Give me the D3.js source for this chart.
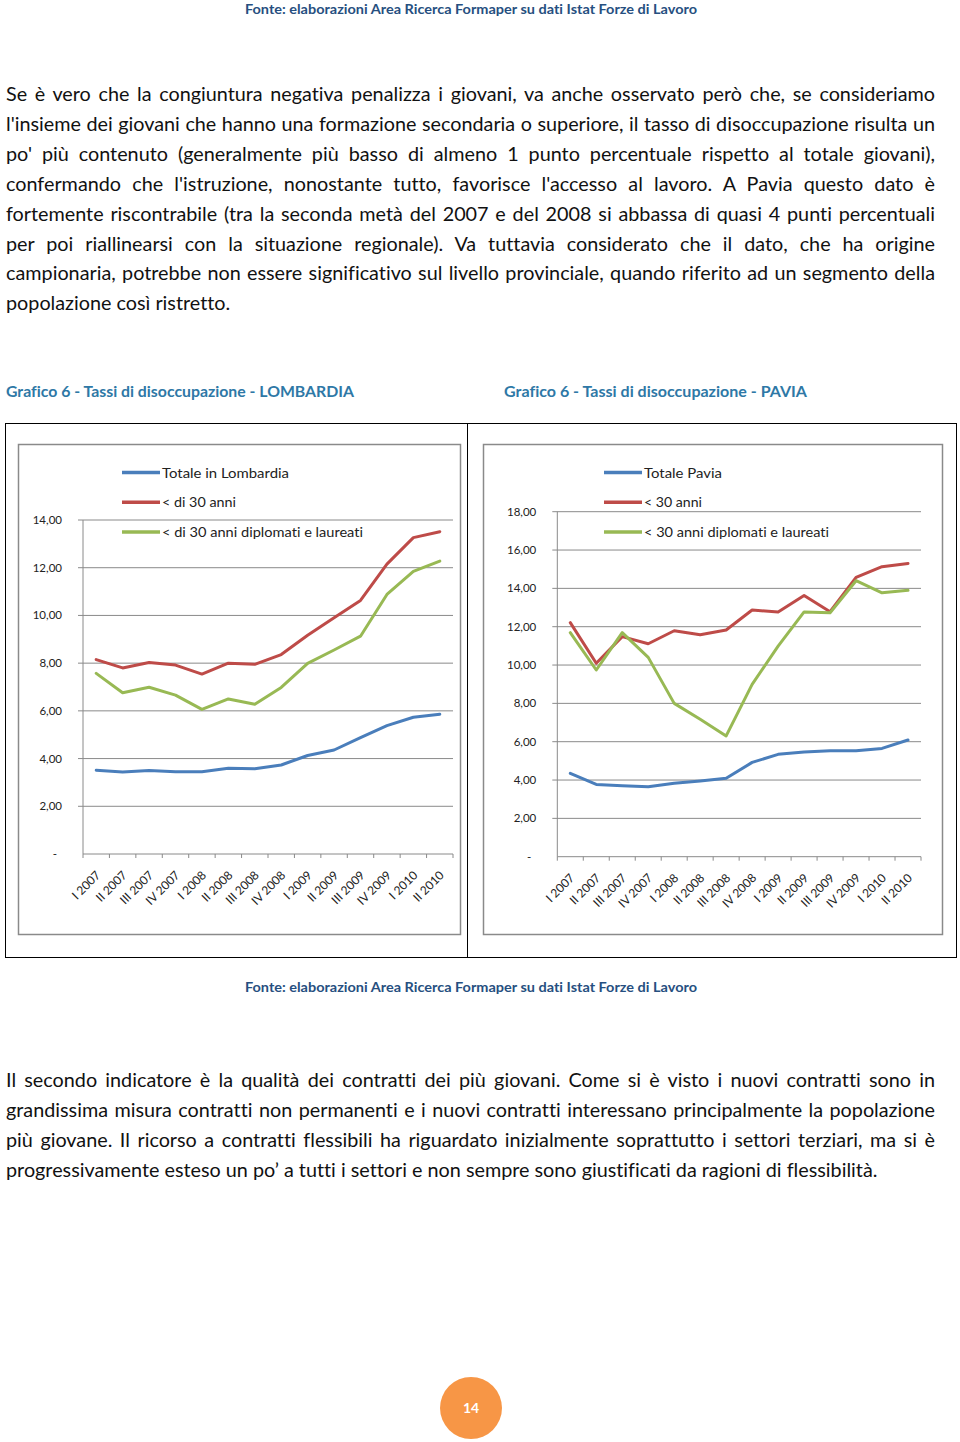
<!DOCTYPE html>
<html>
<head>
<meta charset="utf-8">
<script src="https://cdn.jsdelivr.net/npm/d3@7"></script>
<style>
  html, body { margin: 0; padding: 0; background: #fff; }
  svg { display: block; }
  text { font-variant-ligatures: none; }
</style>
</head>
<body>
<svg id="page" width="960" height="1442"></svg>
<script>
// ---------- DATA ----------
const quarters = ["I 2007","II 2007","III 2007","IV 2007","I 2008","II 2008","III 2008","IV 2008","I 2009","II 2009","III 2009","IV 2009","I 2010","II 2010"];

const lombTotale   = [3.51,3.44,3.50,3.45,3.45,3.59,3.57,3.73,4.13,4.36,4.88,5.38,5.73,5.86];
const lombUnder30  = [8.15,7.80,8.03,7.92,7.54,8.00,7.95,8.36,9.17,9.90,10.63,12.15,13.26,13.51];
const lombDiplomati= [7.57,6.76,6.99,6.66,6.06,6.50,6.28,6.98,7.99,8.55,9.13,10.88,11.85,12.28];

const paviaTotale   = [4.35,3.77,3.70,3.65,3.83,3.95,4.09,4.92,5.34,5.46,5.53,5.53,5.65,6.09];
const paviaUnder30  = [12.21,10.09,11.48,11.11,11.79,11.58,11.83,12.87,12.77,13.63,12.78,14.57,15.13,15.30];
const paviaDiplomati= [11.69,9.74,11.69,10.40,8.00,7.17,6.30,8.99,10.99,12.77,12.73,14.40,13.77,13.90];

const lombTicks  = [0,2,4,6,8,10,12,14];
const paviaTicks = [0,2,4,6,8,10,12,14,16,18];

const lombLegend  = ["Totale in Lombardia","< di 30 anni","< di 30 anni diplomati e laureati"];
const paviaLegend = ["Totale Pavia","< 30 anni","< 30 anni diplomati e laureati"];
const seriesColors = ["#4a7ebb","#be4b48","#98b954"];

const sourceText = "Fonte: elaborazioni Area Ricerca Formaper su dati Istat Forze di Lavoro";
const titleLomb  = "Grafico 6 - Tassi di disoccupazione - LOMBARDIA";
const titlePavia = "Grafico 6 - Tassi di disoccupazione - PAVIA";

const para1 = [
  "Se è vero che la congiuntura negativa penalizza i giovani, va anche osservato però che, se consideriamo",
  "l'insieme dei giovani che hanno una formazione secondaria o superiore, il tasso di disoccupazione risulta un",
  "po' più contenuto (generalmente più basso di almeno 1 punto percentuale rispetto al totale giovani),",
  "confermando che l'istruzione, nonostante tutto, favorisce l'accesso al lavoro. A Pavia questo dato è",
  "fortemente riscontrabile (tra la seconda metà del 2007 e del 2008 si abbassa di quasi 4 punti percentuali",
  "per poi riallinearsi con la situazione regionale). Va tuttavia considerato che il dato, che ha origine",
  "campionaria, potrebbe non essere significativo sul livello provinciale, quando riferito ad un segmento della",
  "popolazione così ristretto."
];
const para2 = [
  "Il secondo indicatore è la qualità dei contratti dei più giovani. Come si è visto i nuovi contratti sono in",
  "grandissima misura contratti non permanenti e i nuovi contratti interessano principalmente la popolazione",
  "più giovane. Il ricorso a contratti flessibili ha riguardato inizialmente soprattutto i settori terziari, ma si è",
  "progressivamente esteso un po’ a tutti i settori e non sempre sono giustificati da ragioni di flessibilità."
];
const pageNumber = "14";

// ---------- DRAW ----------
const svg = d3.select("#page");
const FONT = "Lato, 'Open Sans', sans-serif";
const BODY_SIZE = 19.8;

// Justified paragraph lines (word spacing distributes the slack)
function drawParagraph(lines, firstBaseline, lineGap, lastWidth) {
  lines.forEach((t, i) => {
    const isLast = i === lines.length - 1;
    const el = svg.append("text")
      .attr("x", 6)
      .attr("y", firstBaseline + i * lineGap)
      .attr("font-family", FONT)
      .attr("font-size", BODY_SIZE)
      .attr("fill", "#111")
      .text(t);
    const w = el.node().getComputedTextLength();
    const target = isLast ? lastWidth : 929;
    if (w > target) {
      el.attr("textLength", target).attr("lengthAdjust", "spacingAndGlyphs");
    } else if (!isLast) {
      const spaces = (t.match(/ /g) || []).length;
      el.attr("word-spacing", (target - w) / spaces);
    }
  });
}

// Source lines
function drawSource(y) {
  svg.append("text")
    .attr("x", 471).attr("y", y)
    .attr("text-anchor", "middle")
    .attr("font-family", FONT).attr("font-weight", "bold").attr("font-size", 13)
    .attr("fill", "#264f80")
    .attr("textLength", 452).attr("lengthAdjust", "spacingAndGlyphs")
    .text(sourceText);
}
drawSource(14);
drawParagraph(para1, 101, 29.9, 225);

// Titles
svg.append("text").attr("x", 6).attr("y", 397)
  .attr("font-family", FONT).attr("font-weight", "bold").attr("font-size", 14.5)
  .attr("fill", "#2e78a6").attr("textLength", 348).attr("lengthAdjust", "spacingAndGlyphs")
  .text(titleLomb);
svg.append("text").attr("x", 504).attr("y", 397)
  .attr("font-family", FONT).attr("font-weight", "bold").attr("font-size", 14.5)
  .attr("fill", "#2e78a6").attr("textLength", 303).attr("lengthAdjust", "spacingAndGlyphs")
  .text(titlePavia);

// Outer frame & divider
svg.append("rect").attr("x", 5.5).attr("y", 423.5).attr("width", 951).attr("height", 534)
  .attr("fill", "none").attr("stroke", "#000").attr("stroke-width", 1);
svg.append("line").attr("x1", 467.5).attr("x2", 467.5).attr("y1", 423.5).attr("y2", 957.5)
  .attr("stroke", "#000").attr("stroke-width", 1);

function drawChart(cfg) {
  const g = svg.append("g");
  // chart box
  g.append("rect").attr("x", cfg.box[0]).attr("y", cfg.box[1])
    .attr("width", cfg.box[2] - cfg.box[0]).attr("height", cfg.box[3] - cfg.box[1])
    .attr("fill", "#fff").attr("stroke", "#8a8a8a").attr("stroke-width", 1.5);

  const x = d3.scaleBand().domain(quarters).range([cfg.x0, cfg.x1]);
  const y = d3.scaleLinear().domain([0, cfg.max]).range([cfg.y0, cfg.yTop]);

  // gridlines
  g.selectAll("line.grid").data(cfg.ticks.filter(d => d > 0)).join("line")
    .attr("x1", cfg.x0 - 5).attr("x2", cfg.x1)
    .attr("y1", d => y(d)).attr("y2", d => y(d))
    .attr("stroke", "#8a8a8a").attr("stroke-width", 1);

  // y axis
  g.append("line").attr("x1", cfg.x0).attr("x2", cfg.x0)
    .attr("y1", y(cfg.max)).attr("y2", y(0))
    .attr("stroke", "#8a8a8a").attr("stroke-width", 1);

  // y labels
  const fmt = d => d === 0 ? "-" : d3.format(".2f")(d).replace(".", ",");
  g.selectAll("text.yl").data(cfg.ticks).join("text")
    .attr("x", d => d === 0 ? cfg.x0 - 26 : cfg.x0 - 21)
    .attr("y", d => y(d) + 4)
    .attr("text-anchor", "end")
    .attr("font-family", FONT).attr("font-size", 11.5).attr("fill", "#222")
    .text(fmt);

  // x axis with tick marks at band boundaries
  g.append("line").attr("x1", cfg.x0).attr("x2", cfg.x1)
    .attr("y1", y(0)).attr("y2", y(0))
    .attr("stroke", "#8a8a8a").attr("stroke-width", 1);
  const bounds = quarters.map(q => x(q)).concat([cfg.x1]);
  g.selectAll("line.xt").data(bounds).join("line")
    .attr("x1", d => d).attr("x2", d => d)
    .attr("y1", y(0)).attr("y2", y(0) + 4)
    .attr("stroke", "#8a8a8a");

  // x labels
  g.selectAll("text.xl").data(quarters).join("text")
    .attr("transform", d => `translate(${x(d) + x.bandwidth() / 2 + 5},${y(0) + 22}) rotate(-45)`)
    .attr("text-anchor", "end")
    .attr("font-family", FONT).attr("font-size", 12).attr("fill", "#222")
    .text(d => d);

  // lines
  const line = d3.line()
    .x((d, i) => x(quarters[i]) + x.bandwidth() / 2)
    .y(d => y(d));
  cfg.series.forEach((s, i) => {
    g.append("path").datum(s)
      .attr("d", line)
      .attr("fill", "none")
      .attr("stroke", seriesColors[i])
      .attr("stroke-width", 3)
      .attr("stroke-linejoin", "round")
      .attr("stroke-linecap", "round");
  });

  // legend
  cfg.legend.forEach((lbl, i) => {
    const ly = 472.5 + i * 29.8;
    g.append("line")
      .attr("x1", cfg.legX).attr("x2", cfg.legX + 38)
      .attr("y1", ly).attr("y2", ly)
      .attr("stroke", seriesColors[i]).attr("stroke-width", 3.5);
    g.append("text")
      .attr("x", cfg.legX + 40).attr("y", ly + 5)
      .attr("font-family", FONT).attr("font-size", 14).attr("fill", "#222")
      .attr("textLength", cfg.legW[i]).attr("lengthAdjust", "spacingAndGlyphs")
      .text(lbl);
  });
}

drawChart({
  box: [18.5, 444.5, 460.5, 934.5],
  x0: 83, x1: 453, y0: 854, yTop: 520, max: 14,
  ticks: lombTicks,
  series: [lombTotale, lombUnder30, lombDiplomati],
  legend: lombLegend, legX: 122, legW: [127, 74, 201]
});

drawChart({
  box: [483.5, 444.5, 942.5, 934.5],
  x0: 557.3, x1: 921, y0: 856.7, yTop: 511.7, max: 18,
  ticks: paviaTicks,
  series: [paviaTotale, paviaUnder30, paviaDiplomati],
  legend: paviaLegend, legX: 604, legW: [78, 58, 185]
});

drawSource(992);
drawParagraph(para2, 1087, 29.9, 875);

// page number
svg.append("circle").attr("cx", 471).attr("cy", 1408).attr("r", 31).attr("fill", "#f79646");
svg.append("text").attr("x", 471).attr("y", 1413)
  .attr("text-anchor", "middle")
  .attr("font-family", FONT).attr("font-weight", "bold").attr("font-size", 14)
  .attr("fill", "#fff").text(pageNumber);
</script>
</body>
</html>
